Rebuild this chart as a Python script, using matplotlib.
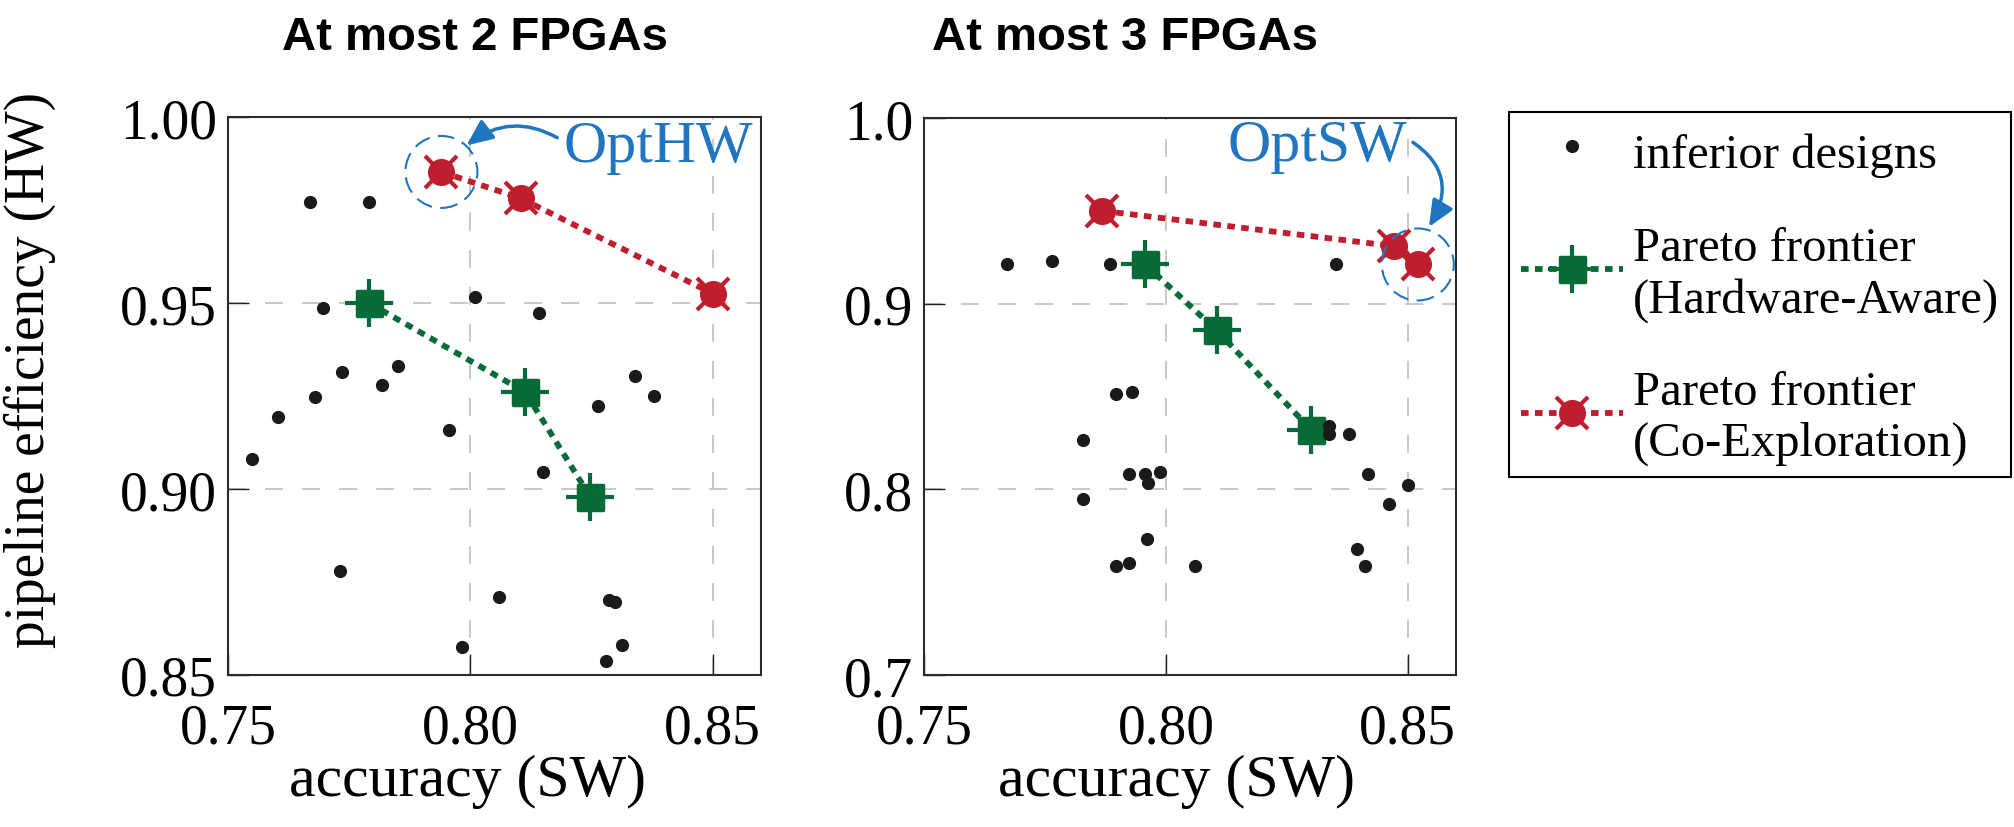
import matplotlib
matplotlib.use("Agg")
import matplotlib.pyplot as plt
import matplotlib.transforms as mtransforms
from matplotlib.markers import MarkerStyle
from matplotlib.patches import Circle
from matplotlib.legend_handler import HandlerTuple
from matplotlib.ticker import FormatStrFormatter

plt.rcParams['font.family'] = ['Liberation Serif', 'DejaVu Serif']

# ---- data: at most 2 FPGAs ----
inf2_acc = [0.7669, 0.7791, 0.7696, 0.8010, 0.8142, 0.7735, 0.7850, 0.7818,
            0.7680, 0.7602, 0.8340, 0.8379, 0.8264, 0.7549, 0.7956, 0.8149,
            0.7730, 0.8060, 0.8287, 0.8298, 0.7983, 0.8313, 0.8280]
inf2_eff = [0.9773, 0.9773, 0.9487, 0.9517, 0.9474, 0.9316, 0.9331, 0.9280,
            0.9248, 0.9195, 0.9303, 0.9251, 0.9224, 0.9081, 0.9159, 0.9047,
            0.8780, 0.8709, 0.8702, 0.8695, 0.8574, 0.8581, 0.8538]
hw2_acc = [0.7791, 0.8113, 0.8247]
hw2_eff = [0.9500, 0.9261, 0.8980]
co2_acc = [0.7940, 0.8104, 0.8500]
co2_eff = [0.9853, 0.9782, 0.9526]

# ---- data: at most 3 FPGAs ----
inf3_acc = [0.7672, 0.7765, 0.7884, 0.8351, 0.7897, 0.7929, 0.7829, 0.7923,
            0.7957, 0.7962, 0.7988, 0.7829, 0.7961, 0.7897, 0.7924, 0.8059,
            0.8338, 0.8338, 0.8379, 0.8418, 0.8500, 0.8461, 0.8396, 0.8411]
inf3_eff = [0.9215, 0.9229, 0.9215, 0.9215, 0.8516, 0.8526, 0.8265, 0.8080,
            0.8080, 0.8035, 0.8094, 0.7950, 0.7733, 0.7589, 0.7604, 0.7589,
            0.8343, 0.8296, 0.8296, 0.8080, 0.8022, 0.7919, 0.7676, 0.7589]
hw3_acc = [0.7957, 0.8105, 0.8301]
hw3_eff = [0.9211, 0.8856, 0.8319]
co3_acc = [0.7868, 0.8471, 0.8521]
co3_eff = [0.9500, 0.9310, 0.9211]

titles = ['At most 2 FPGAs', 'At most 3 FPGAs']
xticks = [0.75, 0.80, 0.85]
yticks2 = [0.85, 0.90, 0.95, 1.00]
yticks3 = [0.7, 0.8, 0.9, 1.0]
labels = ['inferior designs', 'Pareto frontier\n(Hardware-Aware)',
          'Pareto frontier\n(Co-Exploration)']

DOT = '#1a1a1a'
GREEN = '#076b37'
RED = '#be1e2d'
BLUE = '#1f75bf'
GRID = '#c4c4c4'

W, H = 2015, 828
fig = plt.figure(figsize=(W / 100, H / 100), dpi=100)
ax1 = fig.add_axes([228.3 / W, 1 - 676 / H, 532.7 / W, 557.7 / H])
ax2 = fig.add_axes([924.3 / W, 1 - 676 / H, 531.7 / W, 557.0 / H])


def frontier(ax, x, y, color, body, arms, body_ms, arm_ms):
    ln, = ax.plot(x, y, ls=(0, (1.3, 1.1)), lw=4.2, color=color, zorder=3,
                  dash_capstyle='butt')
    m1, = ax.plot(x, y, ls='none', marker=body, ms=body_ms, mfc=color,
                  mec=color, mew=2.5, zorder=4)
    m2, = ax.plot(x, y, ls='none', marker=arms, ms=arm_ms, mec=color,
                  mew=3, zorder=4)
    return (ln, m1, m2)


def panel(ax, ix, iy, hx, hy, cx, cy, yticks, ylim, yfmt):
    dots, = ax.plot(ix, iy, ls='none', marker='o', ms=8.5, color=DOT, zorder=5)
    hw = frontier(ax, hx, hy, GREEN, MarkerStyle('s', joinstyle='round'), '+', 18, 34)
    co = frontier(ax, cx, cy, RED, 'o', 'x', 17, 23)
    ax.set_xlim(0.75, 0.86)
    ax.set_ylim(*ylim)
    ax.set_xticks(xticks)
    ax.set_yticks(yticks)
    ax.xaxis.set_major_formatter(FormatStrFormatter('%.2f'))
    ax.yaxis.set_major_formatter(FormatStrFormatter(yfmt))
    ax.set_axisbelow(True)
    ax.grid(True, color=GRID, lw=1.3, ls=(0, (10, 10.5)))
    ax.tick_params(direction='in', length=15, width=1.0, labelsize=40,
                   color='#222222')
    ax.tick_params(axis='x', pad=20)
    ax.tick_params(axis='y', pad=8)
    for s in ax.spines.values():
        s.set_color('#2b2b2b')
        s.set_linewidth(1.5)
    return dots, hw, co


dots, hw, co = panel(ax1, inf2_acc, inf2_eff, hw2_acc, hw2_eff, co2_acc, co2_eff,
                     yticks2, (0.85, 1.0), '%.2f')
panel(ax2, inf3_acc, inf3_eff, hw3_acc, hw3_eff, co3_acc, co3_eff,
      yticks3, (0.7, 1.0), '%.1f')


def mark_opt(ax, x, y, text, offset, ha, relpos, tip, rad):
    # dashed circle around the chosen design, radius in inches
    tr = fig.dpi_scale_trans + mtransforms.ScaledTranslation(x, y, ax.transData)
    ax.add_patch(Circle((0, 0), 0.36, transform=tr, fill=False, ec=BLUE,
                        lw=1.5, ls=(0, (8, 4)), zorder=6))
    # arrow tip sits on the circle edge, given as an offset in points
    tip_tr = mtransforms.offset_copy(ax.transData, fig=fig, x=tip[0], y=tip[1],
                                     units='points')
    txt_tr = mtransforms.offset_copy(ax.transData, fig=fig, x=offset[0], y=offset[1],
                                     units='points')
    ax.annotate(text, xy=(x, y), xycoords=tip_tr, xytext=(x, y), textcoords=txt_tr,
                ha=ha, va='center', fontsize=43, color=BLUE, zorder=7,
                arrowprops=dict(arrowstyle='-|>,head_length=0.8,head_width=0.35',
                                mutation_scale=20, color=BLUE, lw=2.5,
                                relpos=relpos, shrinkA=3, shrinkB=0,
                                connectionstyle='arc3,rad=%s' % rad))


mark_opt(ax1, co2_acc[0], co2_eff[0], 'OptHW', (88, 18), 'left', (0, 0.6),
         (18, 19), 0.35)
mark_opt(ax2, co3_acc[2], co3_eff[2], 'OptSW', (-8, 85), 'right', (1, 0.65),
         (8, 27), -0.5)

fig.text(475 / W, 1 - 38 / H, titles[0], ha='center', va='center', fontsize=34,
         fontweight='bold', family='Liberation Sans')
fig.text(1125 / W, 1 - 38 / H, titles[1], ha='center', va='center', fontsize=34,
         fontweight='bold', family='Liberation Sans')
fig.text(30 / W, 1 - 370 / H, 'pipeline efficiency (HW)', rotation=90,
         ha='center', va='center', fontsize=40)
fig.text(468 / W, 1 - 782 / H, 'accuracy (SW)', ha='center', va='center', fontsize=43)
fig.text(1177 / W, 1 - 782 / H, 'accuracy (SW)', ha='center', va='center', fontsize=43)

leg = fig.legend([dots, hw, co], labels,
                 handler_map={tuple: HandlerTuple(ndivide=1, pad=0)},
                 loc='upper left', bbox_to_anchor=(1509 / W, 1 - 113 / H),
                 bbox_transform=fig.transFigure, fontsize=35, frameon=True,
                 fancybox=False, edgecolor='black', framealpha=1,
                 handlelength=2.1, handleheight=1.3, handletextpad=0.2,
                 labelspacing=1.0, borderpad=0.25, borderaxespad=0)
leg.get_frame().set_linewidth(1.5)

fig.savefig('out.png', dpi=100)
